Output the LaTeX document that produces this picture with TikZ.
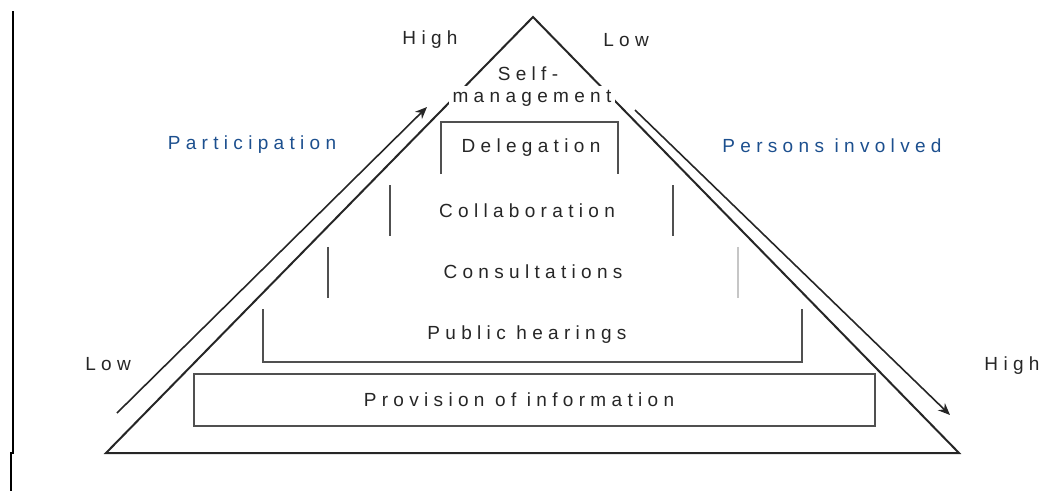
\documentclass[tikz,border=0pt]{standalone}
\usepackage{fontspec}
\setmainfont{Liberation Sans}[LetterSpace=28]
\usetikzlibrary{arrows.meta}

\definecolor{inkgray}{HTML}{262626}
\definecolor{boxgray}{HTML}{505050}
\definecolor{labelblue}{HTML}{1C4F8E}

\begin{document}
\begin{tikzpicture}[x=1pt, y=-1pt,
  txt/.style={font=\fontsize{19}{23}\selectfont, text=inkgray, inner sep=0pt, align=center},
  bluetxt/.style={txt, text=labelblue},
  levelbox/.style={rectangle, inner sep=0pt, minimum height=52pt},
  edge/.style={line width=2pt, draw=inkgray},
  side/.style={line width=1.8pt, draw=boxgray},
  arrow/.style={-{Stealth[length=12pt, width=10pt]}, line width=1.6pt, draw=inkgray}
]
\useasboundingbox (0,0) rectangle (1042,491);

% frame line on the left
\draw[line width=2pt] (13,11) -- (13,453) -- (11,453) -- (11,491);

% pyramid
\coordinate (apex) at (533,17);
\coordinate (baseleft) at (106,453);
\coordinate (baseright) at (959,453);
\draw[edge, line join=miter] (baseleft) -- (apex) -- (baseright) -- cycle;

% levels
\node[levelbox, minimum width=681pt] (infobox) at (534.5,400) {};
\node[levelbox, minimum width=539pt] (hearbox) at (532.5,335.5) {};
\node[levelbox, minimum width=410pt, minimum height=51pt] (consbox) at (533,272.5) {};
\node[levelbox, minimum width=283pt, minimum height=50pt] (collbox) at (531.5,210.5) {};
\node[levelbox, minimum width=177pt] (delebox) at (529.5,148) {};

\draw[side] (infobox.north west) rectangle (infobox.south east);
\draw[side] (hearbox.north west) |- (hearbox.south east) -- (hearbox.north east);
\draw[side] (consbox.north west) -- (consbox.south west);
\draw[side, draw=gray!45] (consbox.north east) -- (consbox.south east);
\draw[side] (collbox.north west) -- (collbox.south west);
\draw[side] (collbox.north east) -- (collbox.south east);
\draw[side] (delebox.south west) |- (delebox.north east) -- (delebox.south east);

\node[txt] (info) at (519,400) {Provision of information};
\node[txt] (hear) at (527,335) {Public hearings};
\node[txt] (cons) at (533,272) {Consultations};
\node[txt] (coll) at (527,211) {Collaboration};
\node[txt] (dele) at (531,148) {Delegation};
\node[txt] (selftop) at (528,74) {Self-};
\node[txt, fill=white, inner sep=4pt] (selfbottom) at (532,98) {management};

% scales
\node[txt] (parthigh) at (430,40) {High};
\node[txt] (perslow) at (626,40) {Low};
\node[txt] (partlow) at (108,364) {Low};
\node[txt] (pershigh) at (1012,366) {High};
\node[bluetxt] (partlabel) at (252,145) {Participation};
\node[bluetxt] (perslabel) at (832,146) {Persons involved};

\coordinate (partfrom) at (117,413);
\coordinate (partto) at (427,107);
\coordinate (persfrom) at (635,110);
\coordinate (persto) at (950,415);
\draw[arrow] (partfrom) -- (partto);
\draw[arrow] (persfrom) -- (persto);

\end{tikzpicture}
\end{document}
